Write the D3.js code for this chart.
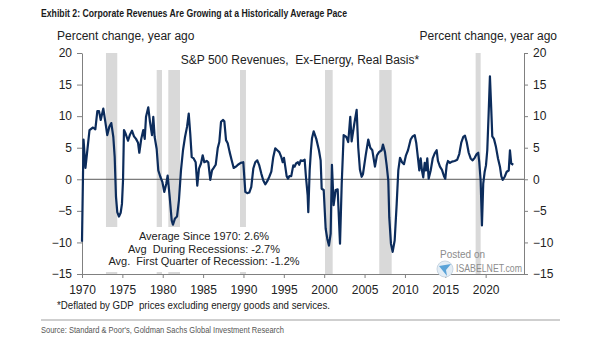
<!DOCTYPE html>
<html>
<head>
<meta charset="utf-8">
<script src="https://cdn.jsdelivr.net/npm/d3@7"></script>
<style>
  body { margin: 0; background: #fff; }
  svg text { font-family: "Liberation Sans", Arial, sans-serif; }
</style>
</head>
<body>
<svg id="chart" width="605" height="341"></svg>
<script>
// S&P 500 revenue growth, ex-energy, real basis (% change, year ago), quarterly
const years = [
  1970.00,1970.19,1970.43,1970.68,1970.93,1971.36,1971.65,1971.90,1972.11,1972.32,
  1972.64,1972.89,1973.13,1973.38,1973.63,1973.88,1974.05,1974.21,1974.37,1974.58,
  1974.79,1974.95,1975.08,1975.20,1975.41,1975.70,1975.95,1976.19,1976.44,1976.69,
  1976.94,1977.10,1977.34,1977.59,1977.77,1977.93,1978.21,1978.42,1978.67,1978.83,
  1979.00,1979.25,1979.45,1979.70,1979.95,1980.19,1980.44,1980.61,1980.86,1981.11,
  1981.27,1981.52,1981.77,1982.01,1982.26,1982.51,1982.76,1983.01,1983.22,1983.41,
  1983.59,1983.83,1984.08,1984.28,1984.49,1984.74,1984.95,1985.15,1985.45,1985.64,
  1985.89,1986.10,1986.31,1986.56,1986.81,1987.01,1987.22,1987.46,1987.63,1987.84,
  1988.05,1988.29,1988.54,1988.79,1989.07,1989.32,1989.66,1989.98,1990.23,1990.47,
  1990.72,1990.97,1991.22,1991.46,1991.71,1991.96,1992.21,1992.46,1992.70,1992.95,
  1993.20,1993.45,1993.69,1993.94,1994.19,1994.44,1994.69,1994.86,1995.02,1995.18,
  1995.35,1995.52,1995.68,1995.92,1996.17,1996.34,1996.51,1996.75,1996.91,1997.09,
  1997.34,1997.58,1997.74,1997.95,1998.03,1998.20,1998.36,1998.49,1998.70,1999.02,
  1999.35,1999.56,1999.69,1999.94,2000.18,2000.38,2000.59,2000.80,2000.96,2001.17,
  2001.42,2001.67,2001.96,2002.17,2002.41,2002.74,2002.98,2003.23,2003.40,2003.73,
  2004.02,2004.22,2004.43,2004.64,2004.80,2005.14,2005.46,2005.71,2005.96,2006.29,
  2006.54,2006.79,2007.12,2007.28,2007.53,2007.74,2007.94,2008.06,2008.27,2008.48,
  2008.73,2008.98,2009.18,2009.39,2009.64,2009.88,2010.13,2010.38,2010.71,2010.96,
  2011.21,2011.41,2011.62,2011.78,2011.95,2012.11,2012.27,2012.45,2012.61,2012.77,
  2012.94,2013.19,2013.44,2013.69,2013.93,2014.09,2014.34,2014.59,2014.84,2015.00,
  2015.17,2015.33,2015.58,2015.83,2016.16,2016.48,2016.73,2016.98,2017.23,2017.44,
  2017.65,2017.90,2018.14,2018.39,2018.64,2018.89,2019.08,2019.21,2019.38,2019.54,
  2019.70,2019.88,2020.04,2020.20,2020.37,2020.53,2020.70,2020.82,2021.03,2021.28,
  2021.53,2021.77,2021.94,2022.11,2022.36,2022.61,2022.86,2023.01,2023.17,2023.42
];
const revenueGrowth = [
  -9.9,6.3,1.8,4.8,7.8,8.2,7.9,10.8,10.8,9.4,
  11.2,9.1,7.0,8.3,8.9,6.7,3.5,-2.8,-5.2,-5.9,
  -5.3,-3.9,-0.2,7.8,7.2,6.1,7.1,7.7,6.8,6.4,
  5.8,4.2,6.4,7.8,6.4,9.9,11.4,9.1,7.0,9.9,
  6.7,4.8,1.4,0.4,-0.4,-2.0,-0.7,0.6,-2.8,-6.5,
  -7.2,-6.2,-5.9,-3.3,1.4,4.6,6.7,8.3,10.4,7.2,
  3.5,3.3,2.7,-1.0,1.7,2.5,3.8,2.7,2.9,2.7,
  -0.1,1.4,1.8,2.3,4.9,5.9,9.1,9.4,9.2,6.2,
  5.7,4.3,3.0,1.8,2.0,2.3,2.6,2.7,-2.0,-2.2,
  -2.1,-1.2,1.7,2.7,3.0,2.2,0.9,-0.2,-0.8,-0.3,
  0.4,1.2,3.5,4.9,4.6,4.3,3.5,2.7,3.4,2.0,
  0.5,0.1,0.5,0.5,2.2,2.0,2.5,2.7,2.3,3.0,
  2.9,3.1,0.4,-2.5,-5.2,1.4,4.6,6.5,7.6,6.4,
  4.6,3.0,-1.5,-1.7,-7.8,-9.4,-10.5,-8.6,2.3,-4.1,
  -1.7,-1.6,-10.2,-0.7,7.0,6.7,5.9,9.9,6.0,8.8,
  11.0,5.0,1.5,0.4,0.8,3.8,6.3,5.0,4.6,2.0,
  3.8,4.3,4.6,5.5,4.3,2.2,-0.2,-6.0,-10.2,-11.5,
  -9.7,-3.9,1.4,3.4,2.7,2.4,3.8,4.6,6.3,6.8,
  7.0,5.7,3.3,1.4,3.3,1.4,0.3,2.6,1.4,3.3,
  0.1,1.4,3.3,4.1,4.6,2.9,2.0,1.5,0.5,0.1,
  2.2,2.9,2.6,2.8,2.9,3.1,4.0,5.8,6.7,6.9,
  5.9,4.2,3.3,3.0,3.4,4.0,4.2,2.7,-0.2,-7.3,
  -0.7,1.2,2.2,4.6,10.4,16.3,10.9,6.8,6.4,5.1,
  3.3,2.0,0.5,-0.1,0.4,1.2,1.4,4.6,2.5,2.3
];

// Recession periods (shaded)
const recessionStart = [1972.97, 1979.25, 1980.69, 1989.57, 2000.10, 2006.82, 2018.76];
const recessionEnd   = [1974.37, 1979.91, 1982.14, 1990.31, 2001.05, 2008.36, 2019.38];

const xTicks = [1970, 1975, 1980, 1985, 1990, 1995, 2000, 2005, 2010, 2015, 2020];
const yTicks = [-15, -10, -5, 0, 5, 10, 15, 20];

const titleText = "Exhibit 2: Corporate Revenues Are Growing at a Historically Average Pace";
const axisTitle = "Percent change, year ago";
const seriesLabel = "S&P 500 Revenues,  Ex-Energy, Real Basis*";
const statLines = [
  "Average Since 1970: 2.6%",
  "Avg  During Recessions: -2.7%",
  "Avg.  First Quarter of Recession: -1.2%"
];
const footnote = "*Deflated by GDP  prices excluding energy goods and services.";
const sourceText = "Source: Standard & Poor's, Goldman Sachs Global Investment Research";

const svg = d3.select("#chart");
const plot = { left: 82, right: 524, top: 53, bottom: 274 };

const x = d3.scaleLinear().domain([1970, 2024.75]).range([plot.left, plot.right]);
const y = d3.scaleLinear().domain([-15, 20]).range([plot.bottom, plot.top]);

// Header
svg.append("text")
  .attr("x", 41).attr("y", 17)
  .attr("font-size", 11.5).attr("font-weight", "bold").attr("fill", "#1a1a1a")
  .attr("textLength", 306).attr("lengthAdjust", "spacingAndGlyphs")
  .text(titleText);

svg.append("text")
  .attr("x", 57).attr("y", 40)
  .attr("font-size", 12).attr("fill", "#222")
  .text(axisTitle);
svg.append("text")
  .attr("x", 557).attr("y", 40).attr("text-anchor", "end")
  .attr("font-size", 12).attr("fill", "#222")
  .text(axisTitle);

// Recession shading
const rec = recessionStart.map((s, i) => ({ s, e: recessionEnd[i] }));
svg.append("g").selectAll("rect").data(rec).join("rect")
  .attr("x", d => x(d.s))
  .attr("width", d => x(d.e) - x(d.s))
  .attr("y", y(20))
  .attr("height", y(-15) - y(20))
  .attr("fill", "#d9d9d9");

// Label boxes (white backgrounds over the shading)
const labelG = svg.append("g");
const seriesText = labelG.append("text")
  .attr("x", 300).attr("y", 64).attr("text-anchor", "middle")
  .attr("font-size", 12).attr("fill", "#222")
  .style("white-space", "pre")
  .text(seriesLabel);
const sb = seriesText.node().getBBox();
labelG.insert("rect", "text")
  .attr("x", sb.x - 32).attr("y", y(20)).attr("width", sb.width + 54)
  .attr("height", sb.y + sb.height + 3 - y(20))
  .attr("fill", "#fff");

const statG = svg.append("g");
statG.selectAll("text").data(statLines).join("text")
  .attr("x", 204).attr("y", (d, i) => 240 + i * 12.5)
  .attr("text-anchor", "middle")
  .attr("font-size", 11).attr("fill", "#222")
  .style("white-space", "pre")
  .text(d => d);
const stb = statG.node().getBBox();
statG.insert("rect", "text")
  .attr("x", stb.x - 6).attr("y", stb.y - 3)
  .attr("width", stb.width + 12).attr("height", y(-15) - 2 - (stb.y - 3))
  .attr("fill", "#fff");

// Axes
const axisColor = "#808080";
const left = svg.append("g").attr("transform", `translate(${plot.left},0)`)
  .call(d3.axisLeft(y).tickValues(yTicks).tickSize(5).tickSizeOuter(0).tickPadding(5));
const right = svg.append("g").attr("transform", `translate(${plot.right},0)`)
  .call(d3.axisRight(y).tickValues(yTicks).tickSize(4).tickSizeOuter(0).tickPadding(5));
const bottom = svg.append("g").attr("transform", `translate(0,${plot.bottom})`)
  .call(d3.axisBottom(x).tickValues(xTicks).tickFormat(d3.format("d"))
    .tickSize(4).tickSizeOuter(0).tickPadding(7));

[left, right, bottom].forEach(g => {
  g.select(".domain").attr("stroke", axisColor);
  g.selectAll(".tick line").attr("stroke", axisColor);
  g.selectAll(".tick text")
    .attr("font-size", 12).attr("fill", "#222")
    .attr("font-family", "\"Liberation Sans\", Arial, sans-serif");
});

// Zero line
svg.append("line")
  .attr("x1", plot.left).attr("x2", plot.right)
  .attr("y1", y(0)).attr("y2", y(0))
  .attr("stroke", "#595959").attr("stroke-width", 1);

// Series
const series = years.map((yr, i) => ({ yr, v: revenueGrowth[i] }));
svg.append("path")
  .datum(series)
  .attr("fill", "none")
  .attr("stroke", "#0c2c5c")
  .attr("stroke-width", 2.2)
  .attr("stroke-linejoin", "round")
  .attr("d", d3.line().x(d => x(d.yr)).y(d => y(d.v)));

// Watermark
const wm = svg.append("g").attr("fill", "#8c8c8c");
wm.append("circle").attr("cx", 445).attr("cy", 269).attr("r", 8)
  .attr("fill", "#e3edf5").attr("stroke", "#c9d6e2");
wm.append("path").attr("d", "M439,266 L451,264 L446,270 L447,276 Z").attr("fill", "#5aa3d8");
wm.append("text").attr("x", 440).attr("y", 258).attr("font-size", 10).text("Posted on");
wm.append("text").attr("x", 456).attr("y", 272).attr("font-size", 10)
  .attr("textLength", 66).attr("lengthAdjust", "spacingAndGlyphs")
  .text("ISABELNET.com");

// Footer
svg.append("text")
  .attr("x", 57).attr("y", 309)
  .attr("font-size", 11).attr("fill", "#1a1a1a")
  .attr("textLength", 273).attr("lengthAdjust", "spacingAndGlyphs")
  .style("white-space", "pre")
  .text(footnote);
svg.append("line")
  .attr("x1", 41).attr("x2", 560).attr("y1", 320).attr("y2", 320)
  .attr("stroke", "#cfcfcf").attr("stroke-width", 2);
svg.append("text")
  .attr("x", 41).attr("y", 333)
  .attr("font-size", 9).attr("fill", "#555")
  .attr("textLength", 243).attr("lengthAdjust", "spacingAndGlyphs")
  .text(sourceText);
</script>
</body>
</html>
